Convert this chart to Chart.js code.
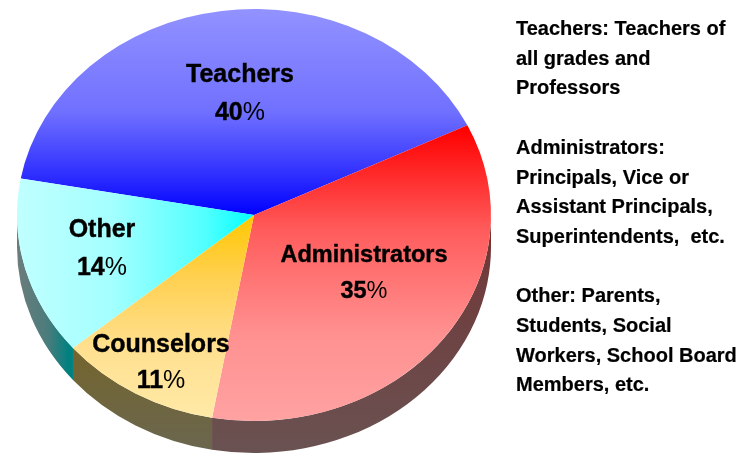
<!DOCTYPE html>
<html>
<head>
<meta charset="utf-8">
<style>
  html, body { margin: 0; padding: 0; background: #fff; }
  #wrap { position: relative; width: 751px; height: 456px; overflow: hidden; }
  #wrap canvas { position: absolute; left: 0; top: 0; }
  .pie-label { position: absolute; width: 200px; text-align: center; color: #000;
    font: bold 25px/38px "Liberation Sans", sans-serif; -webkit-text-stroke: 0.4px #000; }
  .pie-label span { font-weight: normal; -webkit-text-stroke: 0; }
  .note { position: absolute; left: 516px; color: #000; white-space: pre;
    font: bold 20px/29.7px "Liberation Sans", sans-serif; -webkit-text-stroke: 0.2px #000; }
</style>
</head>
<body>
<div id="wrap">
  <canvas id="pie" width="751" height="456"></canvas>
</div>
<script src="https://cdn.jsdelivr.net/npm/chart.js@4/dist/chart.umd.min.js"></script>
<script>
const categories = ['Teachers', 'Administrators', 'Counselors', 'Other'];
const shares = [40, 35, 11, 14];

// 图例说明文字
const noteLines = [
  'Teachers: Teachers of', 'all grades and', 'Professors', '',
  'Administrators:', 'Principals, Vice or', 'Assistant Principals,', 'Superintendents,  etc.', '',
  'Other: Parents,', 'Students, Social', 'Workers, School Board', 'Members, etc.'
];

// 渐变色标：[位置, 颜色]，光照不是线性的，所以多放几个
const faceStops = [
  [[0, '#9292ff'], [0.5, '#7070ff'], [0.8, '#3030ff'], [1, '#0000ff']],
  [[0, '#ff0000'], [0.35, '#ff5c5c'], [0.7, '#ff9090'], [1, '#ffa2a2']],
  [[0, '#ffc800'], [0.3, '#ffd050'], [0.65, '#ffe090'], [1, '#ffeaa8']],
  [[0, '#c0ffff'], [0.4, '#a4ffff'], [0.8, '#50ffff'], [1, '#00ffff']]
];
const wallStops = [
  [[0, '#48487f'], [1, '#00007f']],
  [[0, '#7a1414'], [0.45, '#703c3c'], [1, '#6a5252']],
  [[0, '#806400'], [1, '#6a6650']],
  [[0, '#6c7c7c'], [0.6, '#4a7c7c'], [1, '#008080']]
];

const depth = 32;
const stretchX = 237 / 206; // 圆压成椭圆
const labelSpots = [[240, 54], [364, 236], [161, 325], [102, 209]];
const labelSizes = [25, 23.5, 25, 25];
const labelGaps = [38, 36, 36, 38];

const wrap = document.getElementById('wrap');

// 渐变方向：前三片竖向，Other 横向
function sliceGradient(ctx, i, area, stops, isWall) {
  const cx = (area.left + area.right) / 2;
  const cy = (area.top + area.bottom) / 2;
  const extra = isWall ? depth : 0;
  let g;
  if (i === 0) g = ctx.createLinearGradient(0, area.top, 0, cy);
  else if (i === 1) g = ctx.createLinearGradient(0, area.top + 119, 0, area.bottom + extra);
  else if (i === 2) g = ctx.createLinearGradient(0, cy, 0, area.bottom + extra);
  else if (isWall) g = ctx.createLinearGradient(area.left, 0, area.left + 45, 0);
  else g = ctx.createLinearGradient(area.left, 0, cx, 0);
  stops[i].forEach(s => g.addColorStop(s[0], s[1]));
  return g;
}

const squash = {
  id: 'squash',
  beforeDatasetsDraw(chart) {
    const ctx = chart.ctx;
    const arcs = chart.getDatasetMeta(0).data;
    ctx.save();
    ctx.translate(arcs[0].x, 0);
    ctx.scale(stretchX, 1);
    ctx.translate(-arcs[0].x, 0);

    // 侧面：只画朝下那半圈
    arcs.forEach((arc, i) => {
      let a0 = arc.startAngle;
      let a1 = arc.endAngle;
      const turn = Math.PI * 2;
      while (a0 > 0) { a0 -= turn; a1 -= turn; }
      while (a1 < 0) { a0 += turn; a1 += turn; }
      a0 = Math.max(a0, 0);
      a1 = Math.min(a1, Math.PI);
      if (a1 <= a0) return;
      ctx.beginPath();
      ctx.arc(arc.x, arc.y, arc.outerRadius, a0, a1);
      ctx.arc(arc.x, arc.y + depth, arc.outerRadius, a1, a0, true);
      ctx.closePath();
      ctx.fillStyle = sliceGradient(ctx, i, chart.chartArea, wallStops, true);
      ctx.fill();
    });
  },
  afterDatasetsDraw(chart) {
    chart.ctx.restore();
  }
};

const chart = new Chart(document.getElementById('pie').getContext('2d'), {
  type: 'pie',
  data: {
    labels: categories,
    datasets: [{
      data: shares,
      clip: false,
      borderWidth: 0,
      backgroundColor: (c) => {
        if (!c.chart.chartArea || c.dataIndex === undefined) return '#0000ff';
        return sliceGradient(c.chart.ctx, c.dataIndex, c.chart.chartArea, faceStops, false);
      }
    }]
  },
  options: {
    responsive: false,
    animation: false,
    rotation: -79.8,
    layout: { padding: { left: 48, right: 291, top: 9, bottom: 35 } },
    plugins: { legend: { display: false }, tooltip: { enabled: false } }
  },
  plugins: [squash]
});

categories.forEach((name, i) => {
  const el = document.createElement('div');
  el.className = 'pie-label';
  el.style.left = (labelSpots[i][0] - 100) + 'px';
  el.style.top = labelSpots[i][1] + 'px';
  el.style.fontSize = labelSizes[i] + 'px';
  el.style.lineHeight = labelGaps[i] + 'px';
  el.innerHTML = name + '<br>' + shares[i] + '<span>%</span>';
  wrap.appendChild(el);
});

const note = document.createElement('div');
note.className = 'note';
note.style.top = '14px';
note.textContent = noteLines.join('\n');
wrap.appendChild(note);
</script>
</body>
</html>
